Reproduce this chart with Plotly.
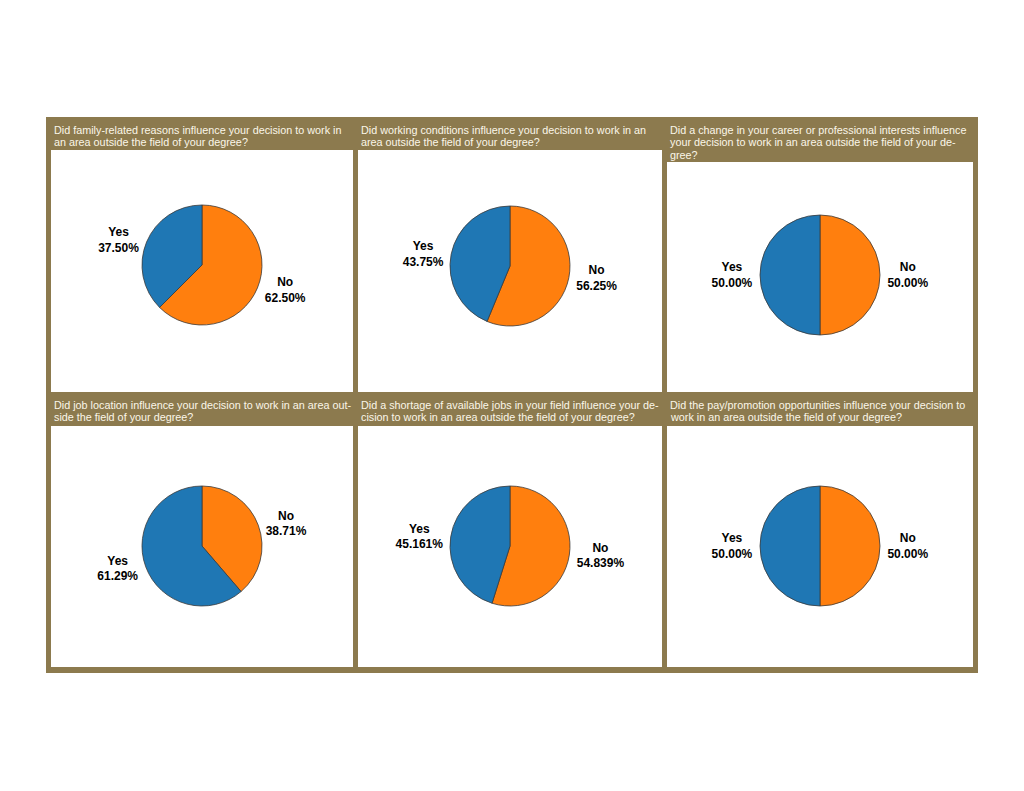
import plotly.graph_objects as go

# survey questions (titles wrapped as in the original report)
questions = [
    "Did family-related reasons influence your decision to work in<br>an area outside the field of your degree?",
    "Did working conditions influence your decision to work in an<br>area outside the field of your degree?",
    "Did a change in your career or professional interests influence<br>your decision to work in an area outside the field of your de-<br>gree?",
    "Did job location influence your decision to work in an area out-<br>side the field of your degree?",
    "Did a shortage of available jobs in your field influence your de-<br>cision to work in an area outside the field of your degree?",
    "Did the pay/promotion opportunities influence your decision to<br>work in an area outside the field of your degree?",
]
labels = ["No", "Yes"]
yes_pct = [37.50, 43.75, 50.00, 61.29, 45.161, 50.00]
no_pct = [62.50, 56.25, 50.00, 38.71, 54.839, 50.00]
pct_digits = [2, 2, 2, 2, 3, 2]

W, H = 1024, 791
OFF = 8  # page body margin
BROWN = "#8C7A4E"
BLUE = "#1F77B4"
ORANGE = "#FF7F0E"


def px(x):
    return (x - OFF) / W


def py(y):
    return 1 - (y - OFF) / H


# panel geometry in pixels (as seen in the page)
col_x = [(51, 353), (358, 662), (667, 973)]
row1_white_top = [150, 150, 162]
row1_bottom = 392
row2_top = 426
row2_bottom = 667
title_y = [130, 405]
line_gap = 12.3
pie_centers = [(202, 265), (510, 266), (820, 275), (202, 546), (510, 546), (820, 546)]
radius = 60

fig = go.Figure()

shapes = [
    dict(type="rect", xref="paper", yref="paper",
         x0=px(46), x1=px(978), y0=py(117), y1=py(673),
         fillcolor=BROWN, line=dict(width=0), layer="below"),
]
for c, (x0, x1) in enumerate(col_x):
    shapes.append(dict(type="rect", xref="paper", yref="paper",
                       x0=px(x0), x1=px(x1), y0=py(row1_white_top[c]), y1=py(row1_bottom),
                       fillcolor="white", line=dict(width=0), layer="below"))
    shapes.append(dict(type="rect", xref="paper", yref="paper",
                       x0=px(x0), x1=px(x1), y0=py(row2_top), y1=py(row2_bottom),
                       fillcolor="white", line=dict(width=0), layer="below"))

# one annotation per title line so the line spacing can be kept tight
annotations = []
for i, q in enumerate(questions):
    r, c = divmod(i, 3)
    for k, line in enumerate(q.split("<br>")):
        annotations.append(dict(
            text=line, xref="paper", yref="paper",
            x=px(col_x[c][0] + 1), y=py(title_y[r] + k * line_gap),
            xanchor="left", yanchor="middle", align="left", showarrow=False,
            font=dict(family="Liberation Sans", size=10.8, color="#FBF6E8"),
        ))

for i in range(6):
    cx, cy = pie_centers[i]
    fig.add_trace(go.Pie(
        labels=labels,
        values=[no_pct[i], yes_pct[i]],
        sort=False,
        direction="clockwise",
        rotation=0,
        marker=dict(colors=[ORANGE, BLUE], line=dict(color="#3A3A3A", width=0.8)),
        textposition="outside",
        texttemplate="<b>%{label}<br>%{percent:." + str(pct_digits[i]) + "%}</b>",
        outsidetextfont=dict(family="Liberation Sans", size=12, color="black"),
        domain=dict(x=[px(cx - radius), px(cx + radius)], y=[py(cy + radius), py(cy - radius)]),
        showlegend=False,
        hoverinfo="label+percent",
    ))

fig.update_layout(
    width=W,
    height=H,
    margin=dict(l=0, r=0, t=0, b=0),
    paper_bgcolor="white",
    plot_bgcolor="white",
    shapes=shapes,
    annotations=annotations,
)

fig.write_html("out.html")
